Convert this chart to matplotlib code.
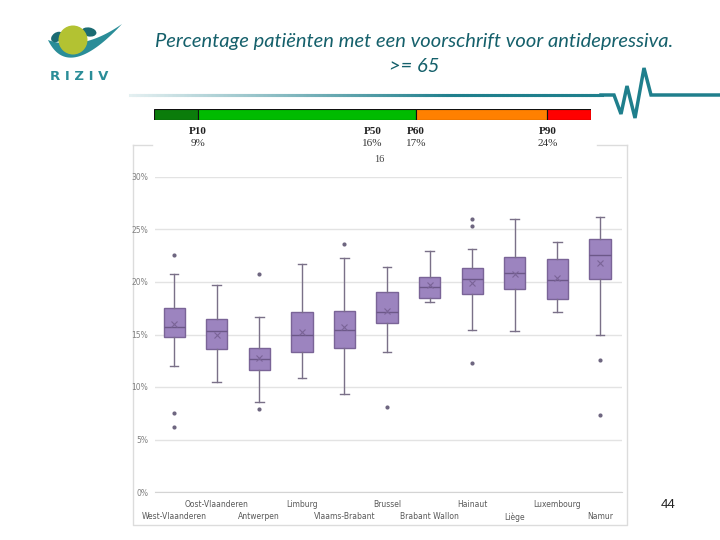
import numpy as np
import matplotlib
matplotlib.use("Agg")
import matplotlib.pyplot as plt
from matplotlib.patches import Circle, Ellipse, Polygon
from matplotlib.collections import LineCollection
from matplotlib.colors import to_rgb

# boxplot data per province (fractions)
provinces = ["West-Vlaanderen", "Oost-Vlaanderen", "Antwerpen", "Limburg", "Vlaams-Brabant",
             "Brussel", "Brabant Wallon", "Hainaut", "Liège", "Luxembourg", "Namur"]
q1 = [0.148, 0.136, 0.116, 0.133, 0.137, 0.161, 0.185, 0.189, 0.193, 0.1835, 0.2025]
med = [0.157, 0.153, 0.1267, 0.1495, 0.154, 0.171, 0.195, 0.2025, 0.209, 0.202, 0.226]
q3 = [0.175, 0.165, 0.1375, 0.171, 0.172, 0.190, 0.2045, 0.213, 0.224, 0.222, 0.241]
mean = [0.160, 0.150, 0.128, 0.152, 0.157, 0.172, 0.197, 0.199, 0.208, 0.2035, 0.2185]
whislo = [0.120, 0.1045, 0.086, 0.1085, 0.0936, 0.133, 0.1807, 0.154, 0.153, 0.171, 0.150]
whishi = [0.208, 0.197, 0.167, 0.217, 0.223, 0.214, 0.2295, 0.231, 0.260, 0.238, 0.262]
fliers = [[0.226, 0.0755, 0.062], [], [0.208, 0.079], [], [0.236],
          [0.081], [], [0.260, 0.253, 0.1225], [], [], [0.126, 0.073]]
yticks = [0, 0.05, 0.10, 0.15, 0.20, 0.25, 0.30]

# percentile scale bar
pct_edges = [0, 10, 60, 90]
pct_widths = [10, 50, 30, 10]
pct_colors = ["#0b7c0b", "#00bb00", "#ff8000", "#ff0000"]
pct_marks = [10, 50, 60, 90]
pct_names = ["P10", "P50", "P60", "P90"]
pct_values = ["9%", "16%", "17%", "24%"]

fig = plt.figure(figsize=(7.2, 5.4), dpi=100)

# background decorations in pixel coordinates
bg = fig.add_axes([0, 0, 1, 1])
bg.set_xlim(0, 720)
bg.set_ylim(540, 0)
bg.axis("off")

teal = "#2a8d98"
dteal = "#1b6b73"
# logo
t = np.linspace(0, 1, 40)
def bez(p0, p1, p2):
    p0, p1, p2 = map(np.array, (p0, p1, p2))
    return ((1 - t)[:, None] ** 2 * p0 + 2 * ((1 - t) * t)[:, None] * p1 + (t ** 2)[:, None] * p2)
lower = bez((48, 40), (68, 82), (122, 24))
upper = bez((48, 40), (82, 52), (122, 24))
bg.add_patch(Polygon(np.vstack([lower, upper[::-1]]), closed=True, fc=teal, ec="none"))
bg.add_patch(Ellipse((57, 37), 13, 9, angle=-35, fc=dteal, ec="none"))
bg.add_patch(Ellipse((89, 32), 15, 9, angle=10, fc=dteal, ec="none"))
bg.add_patch(Circle((73, 40), 14.5, fc="#b3c232", ec="none"))
bg.text(79, 77, "R I Z I V", ha="center", va="center", fontsize=9.5, color=teal,
        family="DejaVu Sans", fontweight="bold")

# title
bg.text(414, 42, "Percentage patiënten met een voorschrift voor antidepressiva.",
        ha="center", va="center", fontsize=14.5, style="italic", color="#15606b", family="Lato")
bg.text(414, 67, ">= 65", ha="center", va="center", fontsize=14.5, style="italic",
        color="#15606b", family="Lato")

# header line with heartbeat (fades in from the left)
xs = np.linspace(130, 602, 120)
segs = [[(xs[i], 95), (xs[i + 1], 95)] for i in range(len(xs) - 1)]
tc = np.array(to_rgb("#1f7f8c"))
cols = []
for i in range(len(xs) - 1):
    a = min(1.0, 0.12 + 1.3 * i / len(xs))
    cols.append(tuple(1 - a * (1 - tc)))
bg.add_collection(LineCollection(segs, colors=cols, linewidths=2.2, capstyle="projecting"))
bg.plot([601, 614, 621, 627, 635, 644, 651, 720],
        [95, 95, 114, 86, 118, 68, 95, 95], color="#1f7f8c", lw=2.5, solid_joinstyle="miter")

# chart panel border
bc = "#dcdcdc"
bg.plot([133, 133, 627, 627], [145, 525, 525, 145], color=bc, lw=1)
bg.plot([133, 152], [145, 145], color=bc, lw=1)
bg.plot([597, 627], [145, 145], color=bc, lw=1)

bg.text(668, 505, "44", ha="center", va="center", fontsize=9.5, color="#222222",
        family="Liberation Sans")

# percentile bar
pb = fig.add_axes([154 / 720, 1 - 120 / 540, 437 / 720, 11 / 540])
pb.barh([0], pct_widths, left=pct_edges, height=1, color=pct_colors, edgecolor="#111111", lw=0.8)
pb.set_xlim(0, 100)
pb.set_ylim(-0.5, 0.5)
pb.axis("off")
for m, n, v in zip(pct_marks, pct_names, pct_values):
    pb.text(m, -1.5, n, ha="center", va="center", fontsize=8, family="Liberation Serif",
            color="#222222", fontweight="bold")
    pb.text(m, -2.6, v, ha="center", va="center", fontsize=8, family="Liberation Serif",
            color="#333333")
pb.text(51.5, -4.1, "16", ha="center", va="center", fontsize=7.5,
        family="Liberation Serif", color="#444444")

# main box chart
ax = fig.add_axes([155 / 720, 1 - 492 / 540, 467 / 720, 315 / 540])
pos = np.arange(1, len(provinces) + 1)
stats = []
for i, p in enumerate(provinces):
    stats.append(dict(label=p, q1=q1[i], med=med[i], q3=q3[i], mean=mean[i],
                      whislo=whislo[i], whishi=whishi[i], fliers=fliers[i]))
ax.bxp(stats, positions=pos, widths=0.5, capwidths=0.2, patch_artist=True, showmeans=True,
       boxprops=dict(facecolor="#9c84bf", edgecolor="#7a6497", lw=1),
       medianprops=dict(color="#6c5888", lw=1),
       whiskerprops=dict(color="#7a7088", lw=1),
       capprops=dict(color="#7a7088", lw=1),
       meanprops=dict(marker="x", markeredgecolor="#7a6497", markersize=5, markeredgewidth=0.8),
       flierprops=dict(marker="o", markerfacecolor="#6e6680", markeredgecolor="none", markersize=3))
ax.set_xlim(0.55, 11.52)
ax.set_ylim(0, 0.30)
ax.set_yticks(yticks)
ax.set_yticklabels([f"{int(round(v * 100))}%" for v in yticks], fontsize=5.5, color="#808080")
ax.tick_params(axis="y", length=0, pad=5)
ax.set_xticks([])
ax.grid(axis="y", color="#e3e3e3", lw=1)
ax.set_axisbelow(True)
for s in ["top", "right", "left"]:
    ax.spines[s].set_visible(False)
ax.spines["bottom"].set_color("#d4d4d4")
for i, p in enumerate(provinces):
    yy = -0.079 if i % 2 == 0 else -0.041
    ax.text(pos[i], yy, p, transform=ax.get_xaxis_transform(), ha="center", va="center",
            fontsize=5.5, color="#595959")

fig.savefig("out.png", dpi=100)
